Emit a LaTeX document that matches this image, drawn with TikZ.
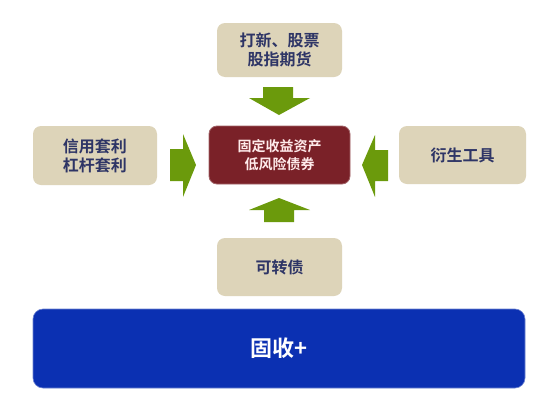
\documentclass[tikz,border=0pt]{standalone}
\usepackage{fontspec}
\newfontfamily\cjk{Noto Sans CJK SC}
\newfontfamily\cjkb{Noto Sans CJK SC Bold}
\definecolor{beige}{HTML}{DDD4B9}
\definecolor{navytxt}{HTML}{2E3566}
\definecolor{boxred}{HTML}{7A2128}
\definecolor{arrowgreen}{HTML}{6B9A0C}
\definecolor{boxblue}{HTML}{0B30B2}
\begin{document}
\begin{tikzpicture}[x=1pt,y=-1pt,
  srcbox/.style={rectangle,rounded corners=8pt,fill=beige,text=navytxt,align=center,
    font=\cjkb\fontsize{16}{19}\selectfont,inner sep=0pt},
  corebox/.style={rectangle,rounded corners=8pt,fill=boxred,draw=boxred!70!white,line width=0.8pt,
    text=white!92!red,align=center,font=\cjkb\fontsize{14}{18.5}\selectfont,inner sep=0pt},
  basebox/.style={rectangle,rounded corners=10pt,fill=boxblue,draw=boxblue!60!white,line width=0.6pt,
    text=white,font=\cjkb\fontsize{22}{26}\selectfont,inner sep=0pt},
  blockarrow/.style={fill=arrowgreen}]
\useasboundingbox (0,0) rectangle (550,410);
\fill[white] (0,0) rectangle (550,410);
\node[srcbox,minimum width=125pt,minimum height=54pt] (top) at (279.5,50) {打新、股票\\股指期货};
\node[srcbox,minimum width=124pt,minimum height=59pt] (left) at (95,155.5) {信用套利\\杠杆套利};
\node[corebox,minimum width=141pt,minimum height=58pt] (core) at (279.5,155) {固定收益资产\\低风险债券};
\node[srcbox,minimum width=127pt,minimum height=58pt] (right) at (462.5,155) {衍生工具};
\node[srcbox,minimum width=125pt,minimum height=58pt] (bottom) at (279.5,267) {可转债};
\node[basebox,minimum width=492pt,minimum height=79pt] (base) at (279,348.5) {固收+};
% block arrows
\fill[blockarrow] (170,149) -- (183,149) -- (183,134) -- (196,165) -- (183,197) -- (183,181) -- (170,181) -- cycle;
\fill[blockarrow] (388,150) -- (375,150) -- (375,135) -- (362,165) -- (375,197) -- (375,181) -- (388,181) -- cycle;
\fill[blockarrow] (263,87) -- (293,87) -- (293,98) -- (310,98) -- (279,115) -- (249,98) -- (263,98) -- cycle;
\fill[blockarrow] (264,222) -- (294,222) -- (294,210) -- (310,210) -- (279,198) -- (249,210) -- (264,210) -- cycle;
\end{tikzpicture}
\end{document}
